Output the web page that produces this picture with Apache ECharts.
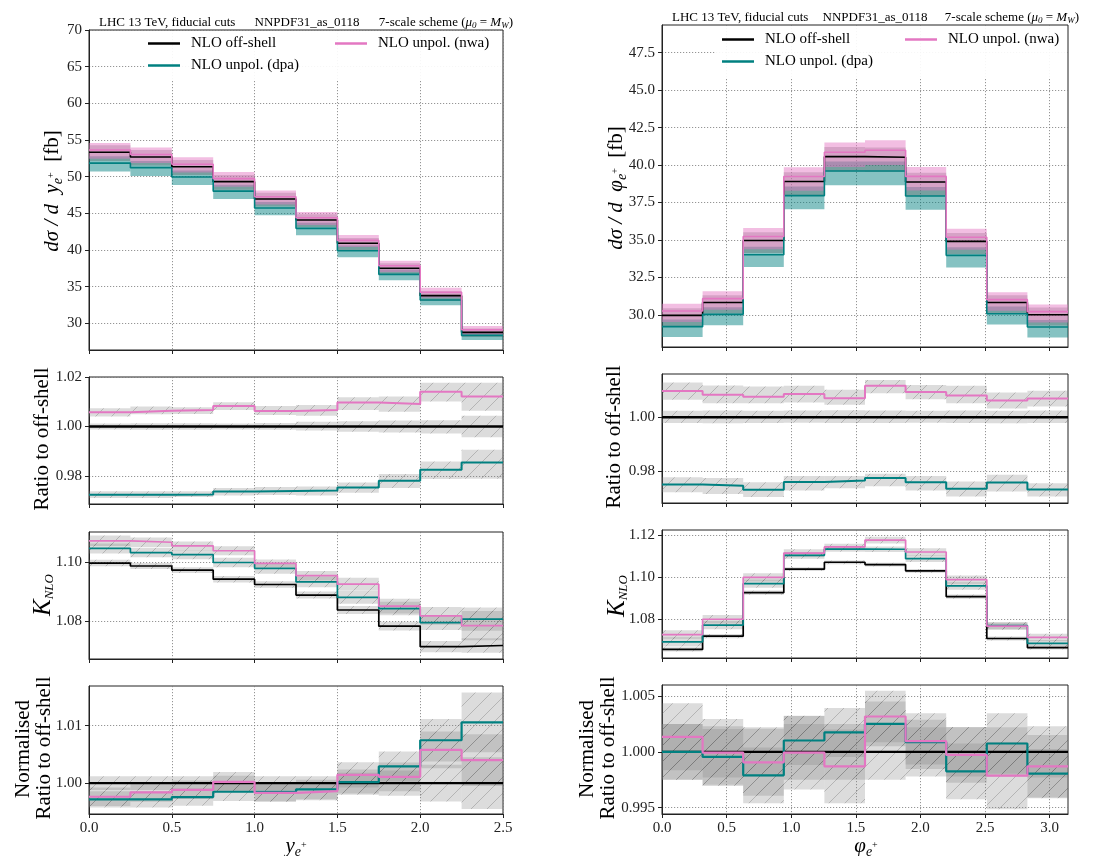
<!DOCTYPE html>
<html><head><meta charset="utf-8">
<script src="https://cdn.jsdelivr.net/npm/echarts@6/dist/echarts.min.js"></script>
<style>html,body{margin:0;padding:0;background:#fff}#c{width:1113px;height:856px}</style>
</head><body><div id="c"></div>
<script>
// ================= DATA =================
const yEdges   = [0, 0.25, 0.5, 0.75, 1.0, 1.25, 1.5, 1.75, 2.0, 2.25, 2.5];
const phiEdges = [0, 0.3142, 0.6283, 0.9425, 1.2566, 1.5708, 1.8850, 2.1991, 2.5133, 2.8274, 3.1416];
const yTicksX   = [0, 0.5, 1.0, 1.5, 2.0, 2.5];
const phiTicksX = [0, 0.5, 1.0, 1.5, 2.0, 2.5, 3.0];

// --- dsigma / dy ---
const yOff   = [53.32, 52.68, 51.36, 49.32, 46.95, 44.09, 40.91, 37.50, 33.77, 28.77];
const yNwa   = [53.63, 53.02, 51.70, 49.73, 47.25, 44.39, 41.31, 37.84, 34.24, 29.12];
const yDpa   = [51.85, 51.23, 49.95, 48.02, 45.73, 42.95, 39.90, 36.68, 33.18, 28.35];
const yOffHi = [54.28, 53.63, 52.28, 50.21, 47.80, 44.88, 41.65, 38.18, 34.38, 29.29];
const yOffLo = [52.15, 51.52, 50.23, 48.23, 45.92, 43.12, 40.01, 36.68, 33.03, 28.14];
const yNwaHi = [54.60, 53.97, 52.63, 50.63, 48.10, 45.19, 42.05, 38.52, 34.86, 29.64];
const yNwaLo = [52.45, 51.85, 50.56, 48.64, 46.21, 43.41, 40.40, 37.01, 33.49, 28.48];
const yDpaHi = [52.78, 52.15, 50.85, 48.88, 46.55, 43.72, 40.62, 37.34, 33.78, 28.86];
const yDpaLo = [50.71, 50.10, 48.85, 46.96, 44.72, 42.00, 39.02, 35.87, 32.45, 27.73];
const yTicksTop = [30, 35, 40, 45, 50, 55, 60, 65, 70];

// --- dsigma / dphi ---
const phiOff   = [29.96, 30.82, 34.96, 38.90, 40.56, 40.52, 38.87, 34.90, 30.82, 30.00];
const phiNwa   = [30.25, 31.08, 35.23, 39.23, 40.85, 40.99, 39.24, 35.18, 31.01, 30.21];
const phiDpa   = [29.21, 30.03, 34.01, 37.96, 39.60, 39.60, 37.93, 33.97, 30.07, 29.19];
const phiOffHi = [30.44, 31.31, 35.52, 39.52, 41.21, 41.17, 39.49, 35.46, 31.31, 30.48];
const phiOffLo = [29.24, 30.08, 34.12, 37.97, 39.59, 39.55, 37.94, 34.06, 30.08, 29.28];
const phiNwaHi = [30.73, 31.58, 35.79, 39.86, 41.50, 41.65, 39.87, 35.74, 31.51, 30.69];
const phiNwaLo = [29.52, 30.33, 34.38, 38.29, 39.87, 40.01, 38.30, 34.34, 30.27, 29.48];
const phiDpaHi = [29.68, 30.51, 34.55, 38.57, 40.23, 40.23, 38.54, 34.51, 30.55, 29.66];
const phiDpaLo = [28.51, 29.31, 33.19, 37.05, 38.65, 38.65, 37.02, 33.15, 29.35, 28.49];
const phiTicksTop = [30.0, 32.5, 35.0, 37.5, 40.0, 42.5, 45.0, 47.5];

// --- ratio to off-shell (y) ---
const yRatOff   = [1, 1, 1, 1, 1, 1, 1, 1, 1, 1];
const yRatNwa   = [1.0058, 1.0064, 1.0067, 1.0083, 1.0063, 1.0067, 1.0097, 1.0091, 1.0140, 1.0121];
const yRatDpa   = [0.9724, 0.9724, 0.9725, 0.9737, 0.9740, 0.9742, 0.9754, 0.9781, 0.9825, 0.9855];
const yRatOffHi = [1.0012, 1.0013, 1.0013, 1.0012, 1.0014, 1.0019, 1.0021, 1.0024, 1.0025, 1.0043];
const yRatOffLo = [0.9988, 0.9987, 0.9987, 0.9988, 0.9987, 0.9984, 0.9979, 0.9976, 0.9972, 0.9957];
const yRatNwaHi = [1.0074, 1.0081, 1.0078, 1.0098, 1.0083, 1.0087, 1.0118, 1.0121, 1.0177, 1.0177];
const yRatNwaLo = [1.0040, 1.0050, 1.0051, 1.0067, 1.0047, 1.0043, 1.0067, 1.0060, 1.0101, 1.0064];
const yRatDpaHi = [0.9738, 0.9738, 0.9738, 0.9752, 0.9756, 0.9758, 0.9774, 0.9808, 0.9859, 0.9906];
const yRatDpaLo = [0.9711, 0.9711, 0.9715, 0.9721, 0.9723, 0.9721, 0.9732, 0.9752, 0.9788, 0.9789];
const yTicksRat = [0.98, 1.00, 1.02];

// --- ratio to off-shell (phi) ---
const phiRatOff   = [1, 1, 1, 1, 1, 1, 1, 1, 1, 1];
const phiRatNwa   = [1.0098, 1.0084, 1.0076, 1.0086, 1.0071, 1.0117, 1.0094, 1.0081, 1.0062, 1.0070];
const phiRatDpa   = [0.9749, 0.9744, 0.9729, 0.9758, 0.9764, 0.9773, 0.9757, 0.9733, 0.9756, 0.9730];
const phiRatOffHi = [1.0024, 1.0025, 1.0024, 1.0025, 1.0026, 1.0025, 1.0024, 1.0025, 1.0024, 1.0025];
const phiRatOffLo = [0.9978, 0.9977, 0.9978, 0.9979, 0.9978, 0.9978, 0.9979, 0.9978, 0.9977, 0.9978];
const phiRatNwaHi = [1.0129, 1.0118, 1.0114, 1.0117, 1.0102, 1.0139, 1.0120, 1.0117, 1.0092, 1.0099];
const phiRatNwaLo = [1.0065, 1.0052, 1.0052, 1.0055, 1.0046, 1.0089, 1.0067, 1.0052, 1.0032, 1.0040];
const phiRatDpaHi = [0.9776, 0.9773, 0.9757, 0.9781, 0.9781, 0.9789, 0.9781, 0.9760, 0.9785, 0.9754];
const phiRatDpaLo = [0.9720, 0.9714, 0.9702, 0.9727, 0.9735, 0.9742, 0.9727, 0.9704, 0.9723, 0.9704];
const phiTicksRat = [0.98, 1.00];

// --- K factor (y) ---
const yKOff    = [1.0998, 1.0988, 1.0974, 1.0943, 1.0925, 1.0889, 1.0838, 1.0783, 1.0713, 1.0717];
const yKDpa    = [1.1048, 1.1034, 1.1027, 1.1000, 1.0980, 1.0934, 1.0881, 1.0843, 1.0795, 1.0807];
const yKNwa    = [1.1074, 1.1069, 1.1057, 1.1040, 1.0997, 1.0955, 1.0926, 1.0851, 1.0818, 1.0785];
const yKOffErr = [0.0011, 0.0010, 0.0010, 0.0011, 0.0011, 0.0012, 0.0014, 0.0015, 0.0019, 0.0025];
const yKDpaErr = [0.0017, 0.0016, 0.0016, 0.0016, 0.0018, 0.0018, 0.0022, 0.0023, 0.0025, 0.0040];
const yKNwaErr = [0.0018, 0.0016, 0.0015, 0.0015, 0.0013, 0.0016, 0.0022, 0.0025, 0.0030, 0.0050];
const yTicksK = [1.08, 1.10];

// --- K factor (phi) ---
const phiKOff    = [1.0654, 1.0717, 1.0925, 1.1037, 1.1070, 1.1059, 1.1029, 1.0906, 1.0706, 1.0663];
const phiKDpa    = [1.0690, 1.0770, 1.0968, 1.1103, 1.1133, 1.1132, 1.1087, 1.0957, 1.0768, 1.0683];
const phiKNwa    = [1.0725, 1.0798, 1.0998, 1.1114, 1.1143, 1.1176, 1.1119, 1.0987, 1.0765, 1.0711];
const phiKOffErr = [0.0010, 0.0010, 0.0010, 0.0009, 0.0009, 0.0009, 0.0009, 0.0010, 0.0010, 0.0010];
const phiKDpaErr = [0.0022, 0.0020, 0.0020, 0.0016, 0.0013, 0.0013, 0.0016, 0.0018, 0.0016, 0.0016];
const phiKNwaErr = [0.0020, 0.0020, 0.0020, 0.0018, 0.0015, 0.0016, 0.0018, 0.0020, 0.0018, 0.0018];
const phiTicksK = [1.08, 1.10, 1.12];

// --- normalised ratio (y) ---
const yNormOff    = [1, 1, 1, 1, 1, 1, 1, 1, 1, 1];
const yNormDpa    = [0.99717, 0.99717, 0.99757, 0.99850, 0.99850, 0.99890, 1.00017, 1.00290, 1.00746, 1.01058];
const yNormNwa    = [0.99763, 0.99838, 0.99884, 1.00023, 0.99832, 0.99861, 1.00145, 1.00110, 1.00578, 1.00400];
const yNormOffErr = [0.0012, 0.0012, 0.0012, 0.0013, 0.0012, 0.0012, 0.0018, 0.0022, 0.0032, 0.0045];
const yNormDpaErr = [0.0014, 0.0014, 0.0015, 0.0016, 0.0016, 0.0017, 0.0022, 0.0026, 0.0037, 0.0052];
const yNormNwaErr = [0.0016, 0.0016, 0.0016, 0.0017, 0.0016, 0.0016, 0.0022, 0.0025, 0.0032, 0.0045];
const yTicksNorm = [1.00, 1.01];

// --- normalised ratio (phi) ---
const phiNormOff    = [1, 1, 1, 1, 1, 1, 1, 1, 1, 1];
const phiNormDpa    = [1.00000, 0.99955, 0.99790, 1.00102, 1.00174, 1.00251, 1.00087, 0.99826, 1.00075, 0.99805];
const phiNormNwa    = [1.00135, 0.99994, 0.99907, 0.99994, 0.99871, 1.00317, 1.00096, 0.99973, 0.99787, 0.99871];
const phiNormOffErr = [0.0025, 0.0023, 0.0022, 0.0025, 0.0025, 0.0025, 0.0022, 0.0022, 0.0022, 0.0023];
const phiNormDpaErr = [0.0025, 0.0025, 0.0025, 0.0022, 0.0022, 0.0020, 0.0020, 0.0025, 0.0027, 0.0022];
const phiNormNwaErr = [0.0030, 0.0030, 0.0030, 0.0033, 0.0033, 0.0023, 0.0025, 0.0025, 0.0030, 0.0028];
const phiTicksNorm = [0.995, 1.000, 1.005];

// ================= STYLE / LAYOUT =================
const SERIF = 'Liberation Serif';
const C_OFF = '#000000', C_DPA = '#008080', C_NWA = '#e377c2';
const B_OFF = 'rgba(90,90,90,0.32)', B_DPA = 'rgba(0,128,128,0.48)', B_NWA = 'rgba(227,119,194,0.48)';
const B_GRAY = 'rgba(128,128,128,0.28)';
const GRIDSTYLE = {color: '#7a7a7a', width: 0.8, type: [1.2, 1.8]};
const COLS = [{left: 89, w: 414}, {left: 662, w: 406}];
const GEOM = [
  [{top: 30, h: 320}, {top: 25, h: 322}],
  [{top: 377, h: 127}, {top: 374, h: 129}],
  [{top: 532, h: 127}, {top: 530, h: 128}],
  [{top: 686, h: 128}, {top: 685, h: 129}]
];
const N = 'NLO off-shell', D = 'NLO unpol. (dpa)', W = 'NLO unpol. (nwa)';

function errLo(v, e) { return v.map((x, i) => x - e[i]); }
function errHi(v, e) { return v.map((x, i) => x + e[i]); }

const panels = [
  {row: 0, col: 0, edges: yEdges, xMax: 2.5, xTicks: yTicksX, yMin: 26.36, yMax: 70, yTicks: yTicksTop, dec: 0, hatch: false,
   bands: [[yDpaLo, yDpaHi, B_DPA], [yOffLo, yOffHi, B_OFF], [yNwaLo, yNwaHi, B_NWA]],
   lines: [[N, yOff, C_OFF, 1.6], [D, yDpa, C_DPA, 1.6], [W, yNwa, C_NWA, 1.6]]},
  {row: 0, col: 1, edges: phiEdges, xMax: 3.1416, xTicks: phiTicksX, yMin: 27.85, yMax: 49.35, yTicks: phiTicksTop, dec: 1, hatch: false,
   bands: [[phiDpaLo, phiDpaHi, B_DPA], [phiOffLo, phiOffHi, B_OFF], [phiNwaLo, phiNwaHi, B_NWA]],
   lines: [[N, phiOff, C_OFF, 1.6], [D, phiDpa, C_DPA, 1.6], [W, phiNwa, C_NWA, 1.6]]},
  {row: 1, col: 0, edges: yEdges, xMax: 2.5, xTicks: yTicksX, yMin: 0.9687, yMax: 1.02, yTicks: yTicksRat, dec: 2, hatch: true,
   bands: [[yRatOffLo, yRatOffHi, B_GRAY], [yRatDpaLo, yRatDpaHi, B_GRAY], [yRatNwaLo, yRatNwaHi, B_GRAY]],
   lines: [[N, yRatOff, C_OFF, 2.4], [D, yRatDpa, C_DPA, 2], [W, yRatNwa, C_NWA, 2]]},
  {row: 1, col: 1, edges: phiEdges, xMax: 3.1416, xTicks: phiTicksX, yMin: 0.968, yMax: 1.0161, yTicks: phiTicksRat, dec: 2, hatch: true,
   bands: [[phiRatOffLo, phiRatOffHi, B_GRAY], [phiRatDpaLo, phiRatDpaHi, B_GRAY], [phiRatNwaLo, phiRatNwaHi, B_GRAY]],
   lines: [[N, phiRatOff, C_OFF, 2.4], [D, phiRatDpa, C_DPA, 2], [W, phiRatNwa, C_NWA, 2]]},
  {row: 2, col: 0, edges: yEdges, xMax: 2.5, xTicks: yTicksX, yMin: 1.0671, yMax: 1.1104, yTicks: yTicksK, dec: 2, hatch: true,
   bands: [[errLo(yKOff, yKOffErr), errHi(yKOff, yKOffErr), B_GRAY], [errLo(yKDpa, yKDpaErr), errHi(yKDpa, yKDpaErr), B_GRAY], [errLo(yKNwa, yKNwaErr), errHi(yKNwa, yKNwaErr), B_GRAY]],
   lines: [[N, yKOff, C_OFF, 1.7], [D, yKDpa, C_DPA, 1.7], [W, yKNwa, C_NWA, 1.7]]},
  {row: 2, col: 1, edges: phiEdges, xMax: 3.1416, xTicks: phiTicksX, yMin: 1.0613, yMax: 1.1224, yTicks: phiTicksK, dec: 2, hatch: true,
   bands: [[errLo(phiKOff, phiKOffErr), errHi(phiKOff, phiKOffErr), B_GRAY], [errLo(phiKDpa, phiKDpaErr), errHi(phiKDpa, phiKDpaErr), B_GRAY], [errLo(phiKNwa, phiKNwaErr), errHi(phiKNwa, phiKNwaErr), B_GRAY]],
   lines: [[N, phiKOff, C_OFF, 1.7], [D, phiKDpa, C_DPA, 1.7], [W, phiKNwa, C_NWA, 1.7]]},
  {row: 3, col: 0, edges: yEdges, xMax: 2.5, xTicks: yTicksX, yMin: 0.99463, yMax: 1.0169, yTicks: yTicksNorm, dec: 2, hatch: true,
   bands: [[errLo(yNormOff, yNormOffErr), errHi(yNormOff, yNormOffErr), B_GRAY], [errLo(yNormDpa, yNormDpaErr), errHi(yNormDpa, yNormDpaErr), B_GRAY], [errLo(yNormNwa, yNormNwaErr), errHi(yNormNwa, yNormNwaErr), B_GRAY]],
   lines: [[N, yNormOff, C_OFF, 2.2], [D, yNormDpa, C_DPA, 2.2], [W, yNormNwa, C_NWA, 2.2]]},
  {row: 3, col: 1, edges: phiEdges, xMax: 3.1416, xTicks: phiTicksX, yMin: 0.99444, yMax: 1.00599, yTicks: phiTicksNorm, dec: 3, hatch: true,
   bands: [[errLo(phiNormOff, phiNormOffErr), errHi(phiNormOff, phiNormOffErr), B_GRAY], [errLo(phiNormDpa, phiNormDpaErr), errHi(phiNormDpa, phiNormDpaErr), B_GRAY], [errLo(phiNormNwa, phiNormNwaErr), errHi(phiNormNwa, phiNormNwaErr), B_GRAY]],
   lines: [[N, phiNormOff, C_OFF, 2.2], [D, phiNormDpa, C_DPA, 2.2], [W, phiNormNwa, C_NWA, 2.2]]}
];

function makeHatch() {
  const s = 16, c = document.createElement('canvas');
  c.width = s; c.height = s;
  const ctx = c.getContext('2d');
  ctx.strokeStyle = 'rgba(90,90,90,0.38)';
  ctx.lineWidth = 0.8;
  ctx.beginPath();
  ctx.moveTo(0, s); ctx.lineTo(s, 0);
  ctx.moveTo(-s / 2, s / 2); ctx.lineTo(s / 2, -s / 2);
  ctx.moveTo(s / 2, s * 1.5); ctx.lineTo(s * 1.5, s / 2);
  ctx.stroke();
  return c;
}
const hatchImg = makeHatch();

const grids = [], xAxes = [], yAxes = [], series = [];
panels.forEach((p, gi) => {
  const col = COLS[p.col], g = GEOM[p.row][p.col];
  const bottom = p.row === 3;
  grids.push({left: col.left, top: g.top, width: col.w, height: g.h, show: true, borderColor: '#222', borderWidth: 1, backgroundColor: 'transparent'});
  xAxes.push({gridIndex: gi, type: 'value', min: 0, max: p.xMax,
    axisLine: {show: true, onZero: false, lineStyle: {color: '#222', width: 1}},
    axisTick: {show: true, inside: false, length: 4, customValues: p.xTicks, lineStyle: {color: '#222', width: 1}},
    axisLabel: {show: bottom, customValues: p.xTicks, formatter: v => Number(v).toFixed(1), fontFamily: SERIF, fontSize: 15, color: '#222', margin: 7},
    splitLine: {show: true, lineStyle: GRIDSTYLE}});
  yAxes.push({gridIndex: gi, type: 'value', min: p.yMin, max: p.yMax,
    axisLine: {show: true, onZero: false, lineStyle: {color: '#222', width: 1}},
    axisTick: {show: true, inside: false, length: 4, customValues: p.yTicks, lineStyle: {color: '#222', width: 1}},
    axisLabel: {customValues: p.yTicks, formatter: v => Number(v).toFixed(p.dec), fontFamily: SERIF, fontSize: 15, color: '#222', margin: 7},
    splitLine: {show: true, lineStyle: GRIDSTYLE}});
  p.bands.forEach((b, bi) => {
    const [lo, hi, fill] = b;
    series.push({
      type: 'custom', name: 'band' + gi + '_' + bi, xAxisIndex: gi, yAxisIndex: gi, z: 1 + bi * 0.01, silent: true, clip: true,
      data: lo.map((l, i) => [p.edges[i], p.edges[i + 1], l, hi[i]]),
      encode: {x: [0, 1], y: [2, 3]},
      renderItem: (params, api) => {
        const a = api.coord([api.value(0), api.value(3)]);
        const c = api.coord([api.value(1), api.value(2)]);
        const shape = {x: a[0], y: a[1], width: c[0] - a[0], height: c[1] - a[1]};
        const ch = [{type: 'rect', shape, style: {fill}}];
        if (p.hatch) ch.push({type: 'rect', shape, style: {fill: {image: hatchImg, repeat: 'repeat'}}});
        return {type: 'group', children: ch};
      }
    });
  });
  p.lines.forEach((l, li) => {
    const [name, vals, color, width] = l;
    const pts = vals.map((v, i) => [p.edges[i], v]);
    pts.push([p.edges[vals.length], vals[vals.length - 1]]);
    series.push({type: 'line', name, xAxisIndex: gi, yAxisIndex: gi, step: 'end', symbol: 'none', showSymbol: false,
      data: pts, z: 3 + li * 0.01, silent: true, clip: true,
      lineStyle: {color, width}, itemStyle: {color}});
  });
});

// legends
const legendDefs = [
  {name: N, left: 148, top: 36}, {name: D, left: 148, top: 58}, {name: W, left: 335, top: 36},
  {name: N, left: 722, top: 32}, {name: D, left: 722, top: 54}, {name: W, left: 905, top: 32}
];
const legends = legendDefs.map(d => ({data: [d.name], left: d.left, top: d.top, padding: 0, z: 10,
  icon: 'rect', itemWidth: 32, itemHeight: 2.5, selectedMode: false,
  textStyle: {fontFamily: SERIF, fontSize: 15, color: '#000', padding: [0, 0, 0, 6]}}));

// texts
const R = {
  i: {fontFamily: SERIF, fontStyle: 'italic', fontSize: 21, color: '#000'},
  n: {fontFamily: SERIF, fontSize: 21, color: '#000'},
  s: {fontFamily: SERIF, fontStyle: 'italic', fontSize: 14, color: '#000', padding: [12, 0, 0, 0]},
  p: {fontFamily: SERIF, fontSize: 10, color: '#000', padding: [0, 0, 2, 0]},
  K: {fontFamily: SERIF, fontStyle: 'italic', fontSize: 25, color: '#000'},
  ks: {fontFamily: SERIF, fontStyle: 'italic', fontSize: 13, color: '#000', padding: [14, 0, 0, 0]},
  t: {fontFamily: SERIF, fontSize: 13, color: '#111'},
  ti: {fontFamily: SERIF, fontStyle: 'italic', fontSize: 13, color: '#111'},
  ts: {fontFamily: SERIF, fontStyle: 'italic', fontSize: 9, color: '#111', padding: [6, 0, 0, 0]}
};
function rtext(x, y, text, rot, align) {
  return {type: 'text', x, y, rotation: rot ? Math.PI / 2 : 0, z: 20, silent: true,
    style: {text, rich: R, align: align || 'center', verticalAlign: 'middle', fontFamily: SERIF, fontSize: 21, fill: '#000'}};
}
const graphics = [
  {type: 'rect', shape: {x: 146, y: 31, width: 356, height: 50}, style: {fill: 'rgba(255,255,255,0.92)'}, z: 3, silent: true},
  {type: 'rect', shape: {x: 716, y: 26, width: 351, height: 52}, style: {fill: 'rgba(255,255,255,0.92)'}, z: 3, silent: true},
  rtext(99, 23, '{t|LHC 13 TeV, fiducial cuts}', false, 'left'),
  rtext(307, 23, '{t|NNPDF31_as_0118}', false, 'center'),
  rtext(513, 23, '{t|7-scale scheme (}{ti|μ}{ts|0}{t| = }{ti|M}{ts|W}{t|)}', false, 'right'),
  rtext(672, 18, '{t|LHC 13 TeV, fiducial cuts}', false, 'left'),
  rtext(875, 18, '{t|NNPDF31_as_0118}', false, 'center'),
  rtext(1079, 18, '{t|7-scale scheme (}{ti|μ}{ts|0}{t| = }{ti|M}{ts|W}{t|)}', false, 'right'),
  rtext(52, 191, '{i|dσ / d  y}{s|e}{p|+}{n|  [fb]}', true),
  rtext(616, 188, '{i|dσ / d  φ}{s|e}{p|+}{n|  [fb]}', true),
  rtext(42, 439, '{n|Ratio to off-shell}', true),
  rtext(614, 437, '{n|Ratio to off-shell}', true),
  rtext(43, 595, '{K|K}{ks|NLO}', true),
  rtext(617, 596, '{K|K}{ks|NLO}', true),
  rtext(23, 749, '{n|Normalised}', true),
  rtext(44, 748, '{n|Ratio to off-shell}', true),
  rtext(587, 749, '{n|Normalised}', true),
  rtext(608, 748, '{n|Ratio to off-shell}', true),
  rtext(296, 846, '{i|y}{s|e}{p|+}', false),
  rtext(866, 846, '{i|φ}{s|e}{p|+}', false)
];

const chart = echarts.init(document.getElementById('c'), null, {renderer: 'canvas'});
chart.setOption({
  animation: false,
  backgroundColor: '#fff',
  grid: grids, xAxis: xAxes, yAxis: yAxes, series,
  legend: legends,
  graphic: graphics
});
</script></body></html>
